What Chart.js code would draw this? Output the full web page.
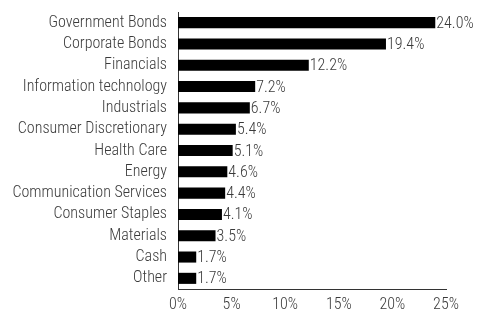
<!DOCTYPE html>
<html>
<head>
<meta charset="utf-8">
<script src="https://cdn.jsdelivr.net/npm/chart.js@4/dist/chart.umd.min.js"></script>
<style>
  html, body { margin: 0; padding: 0; background: #fff; }
  #wrap { width: 490px; height: 313px; position: relative; }
</style>
</head>
<body>
<div id="wrap"><canvas id="allocationChart"></canvas></div>
<script>
// Allocation data
const categories = [
    'Government Bonds',
    'Corporate Bonds',
    'Financials',
    'Information technology',
    'Industrials',
    'Consumer Discretionary',
    'Health Care',
    'Energy',
    'Communication Services',
    'Consumer Staples',
    'Materials',
    'Cash',
    'Other'
];
const weights = [24.0, 19.4, 12.2, 7.2, 6.7, 5.4, 5.1, 4.6, 4.4, 4.1, 3.5, 1.7, 1.7];
const xTicks = [0, 5, 10, 15, 20, 25];

const FONT = '"Roboto Condensed", "Liberation Sans Narrow", "DejaVu Sans Condensed", sans-serif';
const TEXT_COLOR = '#3a3a3a';

// draws "24.0%" etc. right after each bar
const valueLabels = {
    id: 'valueLabels',
    afterDatasetsDraw(chart) {
        const ctx = chart.ctx;
        const meta = chart.getDatasetMeta(0);
        ctx.save();
        ctx.font = '300 16px ' + FONT;
        ctx.fillStyle = TEXT_COLOR;
        ctx.textAlign = 'left';
        ctx.textBaseline = 'middle';
        meta.data.forEach((bar, i) => {
            ctx.fillText(weights[i].toFixed(1) + '%', bar.x + 1, bar.y + 1);
        });
        ctx.restore();
    }
};

new Chart(document.getElementById('allocationChart'), {
    type: 'bar',
    data: {
        labels: categories,
        datasets: [{
            data: weights,
            backgroundColor: '#000000',
            borderWidth: 0,
            barPercentage: 0.52,
            categoryPercentage: 1.0
        }]
    },
    options: {
        indexAxis: 'y',
        responsive: true,
        maintainAspectRatio: false,
        animation: false,
        layout: {
            padding: { left: 0, right: 44, top: 12, bottom: 0 }
        },
        plugins: {
            legend: { display: false },
            tooltip: { enabled: false }
        },
        scales: {
            x: {
                min: 0,
                max: 25,
                afterBuildTicks(scale) {
                    scale.ticks = xTicks.map(v => ({ value: v }));
                },
                afterFit(scale) { scale.height = 24; },
                grid: { display: false, drawTicks: false },
                border: { display: true, color: '#333333', width: 1 },
                ticks: {
                    padding: 6,
                    autoSkip: false,
                    maxRotation: 0,
                    color: TEXT_COLOR,
                    font: { family: FONT, size: 16, weight: 300 },
                    callback: v => v + '%'
                }
            },
            y: {
                afterFit(scale) {
                    scale.width = 178;
                    // bars are offset, so labels never overhang the axis ends
                    scale.paddingTop = 0;
                    scale.paddingBottom = 0;
                },
                grid: { display: false, drawTicks: false },
                border: { display: true, color: '#333333', width: 1 },
                ticks: {
                    padding: 11,
                    autoSkip: false,
                    color: TEXT_COLOR,
                    font: { family: FONT, size: 16, weight: 300 }
                }
            }
        }
    },
    plugins: [valueLabels]
});
</script>
</body>
</html>
